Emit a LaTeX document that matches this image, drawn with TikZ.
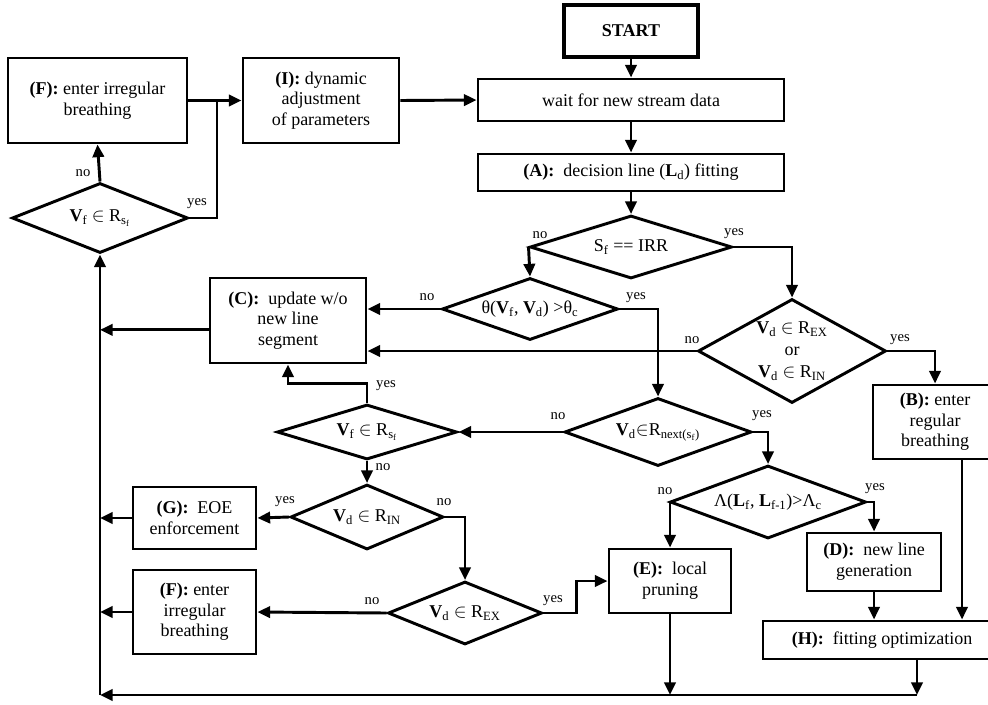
\documentclass[tikz,border=0pt]{standalone}
\usepackage{fontspec}
\setmainfont{Liberation Serif}
\usepackage{tikz}
\usetikzlibrary{shapes.geometric,arrows.meta}

\begin{document}
\begin{tikzpicture}[x=0.75pt,y=0.75pt,yscale=-1,xscale=1,
        box/.style={draw,line width=2.2pt,rectangle,inner sep=1pt,align=center,font=\fontsize{13.5}{15.5}\selectfont},
        decision/.style={draw,line width=2.2pt,diamond,shape aspect=2.6,inner sep=0pt,align=center,font=\fontsize{13.5}{15.5}\selectfont},
        arr/.style={line width=2.2pt,-{Triangle[length=9.5pt,width=8.5pt]}},
        plain/.style={line width=2.2pt},
        lbl/.style={font=\fontsize{11}{12}\selectfont,inner sep=0pt}]
        \useasboundingbox (0,0) rectangle (988,704);

        \node [box,line width=3.4pt,minimum width=100.5pt,minimum height=39pt] (start) at (631,31) {\textbf{START}};
        \node [box,minimum width=229.5pt,minimum height=31.5pt] (wait) at (631,100) {wait for new stream data};
        \node [box,minimum width=229.5pt,minimum height=27.75pt] (fitA) at (631,172.5) {\textbf{(A):}\ \ decision line (\textbf{L}\textsubscript{d}) fitting};
        \node [decision,minimum width=151.5pt,minimum height=47.25pt] (sfirr) at (631,247) {S\textsubscript{f} == IRR};
        \node [decision,minimum width=132pt,minimum height=46.5pt] (theta) at (530,309) {θ(\textbf{V}\textsubscript{f}, \textbf{V}\textsubscript{d}) >θ\textsubscript{c}};
        \node [decision,shape aspect=1.8,minimum width=141pt,minimum height=78pt,font=\fontsize{13.5}{16.5}\selectfont] (vdor) at (792,351) {\textbf{V}\textsubscript{d} $\in$ R\textsubscript{EX}\\or\\\textbf{V}\textsubscript{d} $\in$ R\textsubscript{IN}};
        \node [box,minimum width=93pt,minimum height=55.5pt] (regB) at (935,422) {\textbf{(B):} enter\\regular\\breathing};
        \node [box,minimum width=117pt,minimum height=63.75pt] (updC) at (288,320.5) {\textbf{(C):}\ \ update w/o\\new line\\segment};
        \node [decision,minimum width=140.25pt,minimum height=51pt] (vdnext) at (658,432) {\textbf{V}\textsubscript{d}$\in$R\textsubscript{next(s\textsubscript{f})}};
        \node [decision,minimum width=135pt,minimum height=41.25pt] (vfmid) at (367,432) {\textbf{V}\textsubscript{f} $\in$ R\textsubscript{s\textsubscript{f}}};
        \node [decision,minimum width=147pt,minimum height=54.75pt] (lambda) at (768,502) {Λ(\textbf{L}\textsubscript{f}, \textbf{L}\textsubscript{f-1})>Λ\textsubscript{c}};
        \node [decision,minimum width=114.75pt,minimum height=48.75pt] (vdin) at (367,517) {\textbf{V}\textsubscript{d} $\in$ R\textsubscript{IN}};
        \node [box,minimum width=92.25pt,minimum height=46.5pt] (eoeG) at (194.5,518) {\textbf{(G):}\ \ EOE\\enforcement};
        \node [decision,minimum width=115.5pt,minimum height=47.25pt] (vdex) at (465,613) {\textbf{V}\textsubscript{d} $\in$ R\textsubscript{EX}};
        \node [box,minimum width=92.25pt,minimum height=63pt] (irrF) at (194.5,612) {\textbf{(F):} enter\\irregular\\breathing};
        \node [box,minimum width=91.5pt,minimum height=48pt] (pruneE) at (670,581) {\textbf{(E):}\ \ local\\pruning};
        \node [box,minimum width=100.5pt,minimum height=43.5pt] (newD) at (874,562) {\textbf{(D):}\ \ new line\\generation};
        \node [box,minimum width=178.5pt,minimum height=28.5pt] (optH) at (882,640) {\textbf{(H):}\ \ fitting optimization};
        \node [decision,minimum width=132pt,minimum height=52.5pt] (vftop) at (100,218) {\textbf{V}\textsubscript{f} $\in$ R\textsubscript{s\textsubscript{f}}};
        \node [box,minimum width=134.25pt,minimum height=63.75pt] (irrtop) at (97.5,100.5) {\textbf{(F):} enter irregular\\breathing};
        \node [box,minimum width=117pt,minimum height=63.75pt] (dynI) at (321,100.5) {\textbf{(I):} dynamic\\adjustment\\of parameters};

        \coordinate (busbot) at (100,695);
        \coordinate (busend) at (917,695);
        \coordinate (join) at (217,100.5);

        \draw [arr] (start) -- (wait);
        \draw [arr] (wait) -- (fitA);
        \draw [arr] (fitA) -- (sfirr);
        \draw [arr] (sfirr.west) -- (theta.north);
        \draw [arr] (sfirr.east) -| (vdor.north);
        \draw [arr] (theta.west) -- (theta.west -| updC.east);
        \draw [arr] (vdor.west) -- (vdor.west -| updC.east);
        \draw [arr] (vdor.east) -| (regB.north);
        \draw [arr] (theta.east) -| (vdnext.north);
        \draw [arr] ([yshift=7pt]updC.west) -- ([yshift=7pt]updC.west -| busbot);
        \draw [arr] (vdnext.west) -- (vfmid.east);
        \draw [arr] (vdnext.east) -| (lambda.north);
        \draw [arr] (vfmid.north) -- ++(0,-20) -| (updC.south);
        \draw [arr] (vfmid.south) -- (vdin.north);
        \draw [arr] (vdin.west) -- (eoeG.east);
        \draw [arr] (vdin.east) -| (vdex.north);
        \draw [arr] (vdex.west) -- (irrF.east);
        \draw [arr] (vdex.east) -- ++(33,0) |- (pruneE.west);
        \draw [arr] (lambda.west) -| (pruneE.north);
        \draw [arr] (lambda.east) -| (newD.north);
        \draw [arr] (newD.south) -- (newD.south |- optH.north);
        \draw [arr] ([xshift=20.25pt]regB.south) -- ([xshift=20.25pt]regB.south |- optH.north);
        \draw [arr] (optH.south -| busend) -- (busend);
        \draw [arr] (pruneE.south) -- (pruneE.south |- busend);
        \draw [arr] (busend) -- (busbot);
        \draw [arr] (busbot) -- (vftop.south);
        \draw [arr] (eoeG.west) -- (eoeG.west -| busbot);
        \draw [arr] (irrF.west) -- (irrF.west -| busbot);
        \draw [arr] (vftop.north) -- (irrtop.south);
        \draw [plain] (vftop.east) -| (join);
        \draw [arr] (irrtop.east) -- (dynI.west);
        \draw [arr] (dynI.east) -- (wait.west);

        \node [lbl] (nA) at (540,235) {no};
        \node [lbl] (yA) at (734,234) {yes};
        \node [lbl] (nB) at (427,297) {no};
        \node [lbl] (yB) at (636,298) {yes};
        \node [lbl] (nC) at (692,340) {no};
        \node [lbl] (yC) at (900,340) {yes};
        \node [lbl] (nD) at (558,416) {no};
        \node [lbl] (yD) at (762,416) {yes};
        \node [lbl] (yE) at (386,386) {yes};
        \node [lbl] (nE) at (383,467) {no};
        \node [lbl] (yF) at (285,502) {yes};
        \node [lbl] (nF) at (444,502) {no};
        \node [lbl] (nG) at (372,601) {no};
        \node [lbl] (yG) at (553,601) {yes};
        \node [lbl] (nH) at (665,491) {no};
        \node [lbl] (yH) at (875,489) {yes};
        \node [lbl] (nI) at (83,173) {no};
        \node [lbl] (yI) at (197,204) {yes};

    \end{tikzpicture}
\end{document}
